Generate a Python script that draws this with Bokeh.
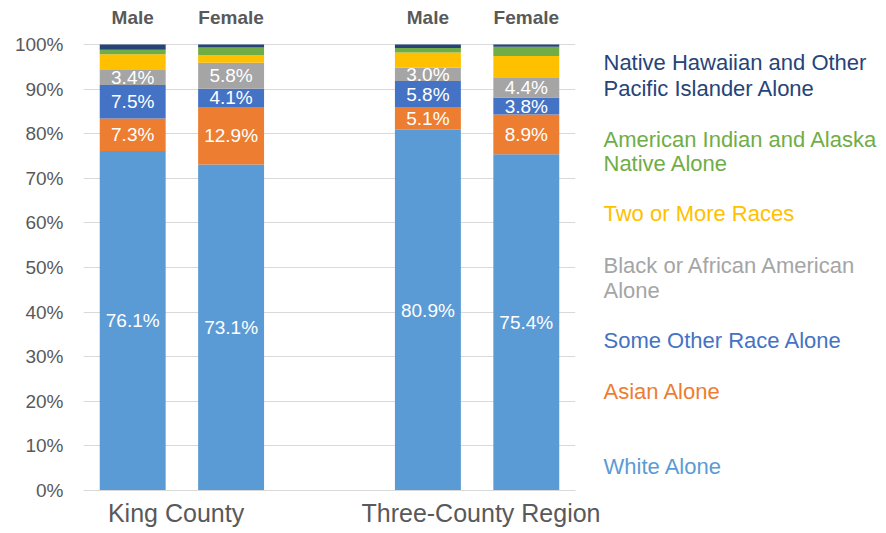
from bokeh.plotting import figure
from bokeh.layouts import row
from bokeh.models import FactorRange, ColumnDataSource, CategoricalAxis, FixedTicker, Range1d
from bokeh.embed import file_html
from bokeh.resources import INLINE
from bokeh.core.properties import value

regions = ["King County", "Three-County Region"]
sexes = ["Male", "Female"]
races = ["White Alone", "Asian Alone", "Some Other Race Alone",
         "Black or African American Alone", "Two or More Races",
         "American Indian and Alaska Native Alone",
         "Native Hawaiian and Other Pacific Islander Alone"]
white = [76.1, 73.1, 80.9, 75.4]
asian = [7.3, 12.9, 5.1, 8.9]
other = [7.5, 4.1, 5.8, 3.8]
black = [3.4, 5.8, 3.0, 4.4]
two = [3.5, 1.7, 3.4, 4.9]
aian = [1.0, 1.7, 1.0, 2.1]
nhpi = [1.2, 0.7, 0.8, 0.5]
colors = ["#5B9BD5", "#ED7D31", "#4472C4", "#A5A5A5", "#FFC000", "#70AD47", "#264478"]
legend_lines = [
    ["Native Hawaiian and Other", "Pacific Islander Alone"],
    ["American Indian and Alaska", "Native Alone"],
    ["Two or More Races"],
    ["Black or African American", "Alone"],
    ["Some Other Race Alone"],
    ["Asian Alone"],
    ["White Alone"],
]
legend_colors = ["#264478", "#70AD47", "#FFC000", "#A5A5A5", "#4472C4", "#ED7D31", "#5B9BD5"]
y_ticks = list(range(0, 101, 10))

FONT = "Liberation Sans"
GRAY = "#595959"
W1, W, H = 600, 886, 533
FT, FB, TOP = 44, 490, 8   # 100% line, 0% line, frame top (px)
Y_END = 100 * (FB - TOP) / (FB - FT)
Y_SEX = 100 * (FB - 17) / (FB - FT)

x = [(r, s) for r in regions for s in sexes]
series = [white, asian, other, black, two, aian, nhpi]
data = {"x": x}
for name, vals in zip(races, series):
    data[name] = vals
src = ColumnDataSource(data)

p = figure(width=W1, height=H, output_backend="svg", toolbar_location=None,
           x_range=FactorRange(*x, group_padding=1.0, factor_padding=0.0, range_padding=0.0),
           y_range=Range1d(0, Y_END), x_axis_location=None,
           min_border_left=83, min_border_right=W1 - 575, min_border_top=TOP,
           min_border_bottom=H - FB)
p.outline_line_color = None
p.extra_x_ranges = {"regions": FactorRange(*regions, range_padding=-0.1985,
                                           range_padding_units="absolute")}

p.vbar_stack(races, x="x", width=0.67, color=colors, line_color=None, source=src)

# value labels for the first four series
lx, ly, lt = [], [], []
for i, xx in enumerate(x):
    base = 0.0
    for vals in series[:4]:
        lx.append(xx)
        ly.append(base + vals[i] / 2)
        lt.append(f"{vals[i]:.1f}%")
        base += vals[i]
p.text(x=lx, y=ly, text=lt, text_color="white", text_align="center", text_baseline="middle",
       text_font=value(FONT), text_font_size="19px")

# Male / Female labels above the bars
p.text(x=x, y=[Y_SEX] * len(x), text=[s for _, s in x], text_color=GRAY,
       text_align="center", text_baseline="middle", text_font=value(FONT),
       text_font_size="19px", text_font_style="bold")

# y axis
yax = p.yaxis[0]
yax.ticker = FixedTicker(ticks=y_ticks)
yax.major_label_overrides = {t: f"{t}%" for t in y_ticks}
yax.axis_line_color = None
yax.major_tick_line_color = None
yax.minor_tick_line_color = None
yax.major_tick_out = 0
yax.major_tick_in = 0
yax.major_label_standoff = 20
yax.major_label_text_font = FONT
yax.major_label_text_font_size = "19px"
yax.major_label_text_color = GRAY
p.ygrid.ticker = FixedTicker(ticks=y_ticks)
p.ygrid.grid_line_color = "#d9d9d9"
p.xgrid.grid_line_color = None

# bottom axis: region names
bax = CategoricalAxis(x_range_name="regions", axis_line_color="#d9d9d9",
                      major_tick_line_color=None, minor_tick_line_color=None,
                      major_tick_out=0, major_tick_in=0, major_label_standoff=8,
                      major_label_text_font=FONT, major_label_text_font_size="25px",
                      major_label_text_color=GRAY)
p.add_layout(bax, "below")

# legend panel (pixel coordinates, y downward); frame aligned with chart frame
leg = figure(width=W - W1, height=H, output_backend="svg", toolbar_location=None,
             x_range=Range1d(W1, W), y_range=Range1d(FB, TOP),
             min_border_left=0, min_border_right=0,
             min_border_top=TOP, min_border_bottom=H - FB)
leg.axis.visible = False
leg.grid.visible = False
leg.outline_line_color = None
line_y = [[62, 87.5], [138.5, 162.5], [213], [264.5, 289.5], [340], [391], [466]]
tx, ty, tt, tc = [], [], [], []
for lines, ys, c in zip(legend_lines, line_y, legend_colors):
    for t, yy in zip(lines, ys):
        tx.append(603)
        ty.append(yy)
        tt.append(t)
        tc.append(c)
leg.text(x=tx, y=ty, text=tt, text_color=tc, text_baseline="middle", text_align="left",
         text_font=value(FONT), text_font_size="22px")

layout = row(p, leg, spacing=0)
open("out.html", "w").write(file_html(layout, INLINE))
